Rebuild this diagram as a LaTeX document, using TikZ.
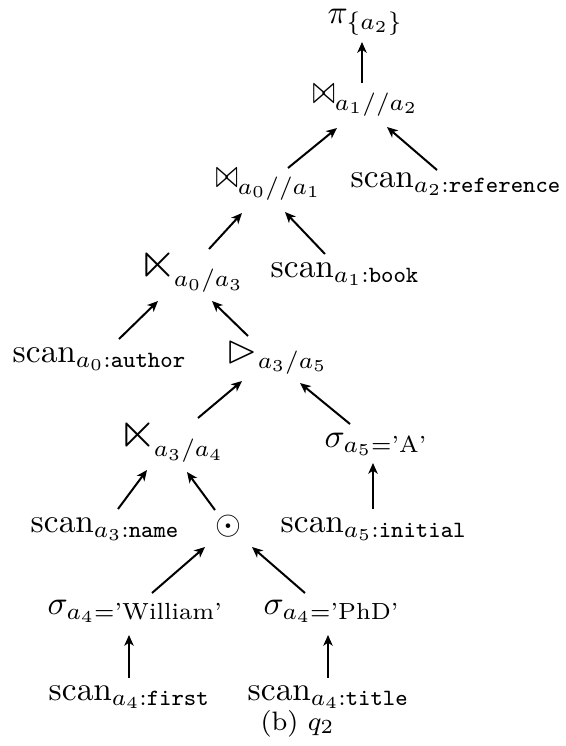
\documentclass[tikz,border=0pt]{standalone}
\usepackage{amsmath,amssymb,graphicx}
\usetikzlibrary{arrows.meta}
% operator symbols; the invisible rules give the subscripts a deeper drop
\newcommand{\bigjoin}{\mathrel{\scalebox{0.8}[1.2]{$\bowtie$}\rule[-1.6pt]{0pt}{1pt}}}
\newcommand{\bigsemi}{{\scalebox{1.5}{$\ltimes$}\rule[-2.4pt]{0pt}{1pt}\mkern-2mu}}
\newcommand{\bigtri}{\mathbin{\scalebox{1.2}{$\rhd$}}}
\begin{document}
\begin{tikzpicture}[x=0.3pt,y=-0.3pt,
  op/.style={inner sep=0pt,anchor=base west},
  edge/.style={-{Stealth[length=3.2pt,width=2.8pt,inset=0.9pt]},line width=0.6pt}]
\useasboundingbox (0,0) rectangle (566,746);

% operator tree, leaves at the bottom
\node[op] (pi)    at (327,23)  {$\pi_{\{a_2\}}$};
\node[op] (j1)    at (312,103) {$\bigjoin_{a_1//a_2}$};
\node[op] (j0)    at (215,187) {$\bigjoin_{a_0//a_1}$};
\node[op] (sref)  at (350,187) {$\mathrm{scan}_{a_2:\texttt{reference}}$};
\node[op] (s0)    at (138,277) {$\bigsemi_{a_0/a_3}$};
\node[op] (sbook) at (270,277) {$\mathrm{scan}_{a_1:\texttt{book}}$};
\node[op] (sauth) at (12,362)  {$\mathrm{scan}_{a_0:\texttt{author}}$};
\node[op] (tr)    at (226,362) {$\bigtri_{a_3/a_5}$};
\node[op] (s1)    at (118,447) {$\bigsemi_{a_3/a_4}$};
\node[op] (selA)  at (324,447) {$\sigma_{a_5=\text{'A'}}$};
\node[op] (sname) at (30,532)  {$\mathrm{scan}_{a_3:\texttt{name}}$};
\node[inner sep=0pt] (dot) at (228.5,526) {$\odot$};
\node[op] (sinit) at (280,532) {$\mathrm{scan}_{a_5:\texttt{initial}}$};
\node[op] (selW)  at (47,614)  {$\sigma_{a_4=\text{'William'}}$};
\node[op] (selP)  at (263,614) {$\sigma_{a_4=\text{'PhD'}}$};
\node[op] (sfirst) at (48,700) {$\mathrm{scan}_{a_4:\texttt{first}}$};
\node[op] (stitle) at (247,700) {$\mathrm{scan}_{a_4:\texttt{title}}$};
\node[op,font=\footnotesize] (cap) at (260,730) {(b) $q_2$};

% data flow, child to parent
\draw[edge] ([shift={(50,-20)}]j1.base west)    -- ([shift={(35,19)}]pi.base west);
\draw[edge] ([shift={(73,-19)}]j0.base west)    -- ([shift={(25,25)}]j1.base west);
\draw[edge] ([shift={(87,-17)}]sref.base west)  -- ([shift={(75,24)}]j1.base west);
\draw[edge] ([shift={(71,-28)}]s0.base west)    -- ([shift={(27,26)}]j0.base west);
\draw[edge] ([shift={(55,-23)}]sbook.base west) -- ([shift={(70,25)}]j0.base west);
\draw[edge] ([shift={(107,-23)}]sauth.base west) -- ([shift={(20,24)}]s0.base west);
\draw[edge] ([shift={(22,-26)}]tr.base west)    -- ([shift={(74,24)}]s0.base west);
\draw[edge] ([shift={(80,-29)}]s1.base west)    -- ([shift={(16,19)}]tr.base west);
\draw[edge] ([shift={(26,-23)}]selA.base west)  -- ([shift={(74,21)}]tr.base west);
\draw[edge] ([shift={(88,-23)}]sname.base west) -- ([shift={(29,23)}]s1.base west);
\draw[edge] ([shift={(-13.5,-16)}]dot.center)   -- ([shift={(69,25)}]s1.base west);
\draw[edge] ([shift={(93,-23)}]sinit.base west) -- ([shift={(49,16)}]selA.base west);
\draw[edge] ([shift={(105,-21)}]selW.base west) -- ([shift={(-23.5,21)}]dot.center);
\draw[edge] ([shift={(42,-21)}]selP.base west)  -- ([shift={(23.5,21)}]dot.center);
\draw[edge] ([shift={(81,-22)}]sfirst.base west) -- ([shift={(82,21)}]selW.base west);
\draw[edge] ([shift={(81,-22)}]stitle.base west) -- ([shift={(65,21)}]selP.base west);
\end{tikzpicture}
\end{document}
